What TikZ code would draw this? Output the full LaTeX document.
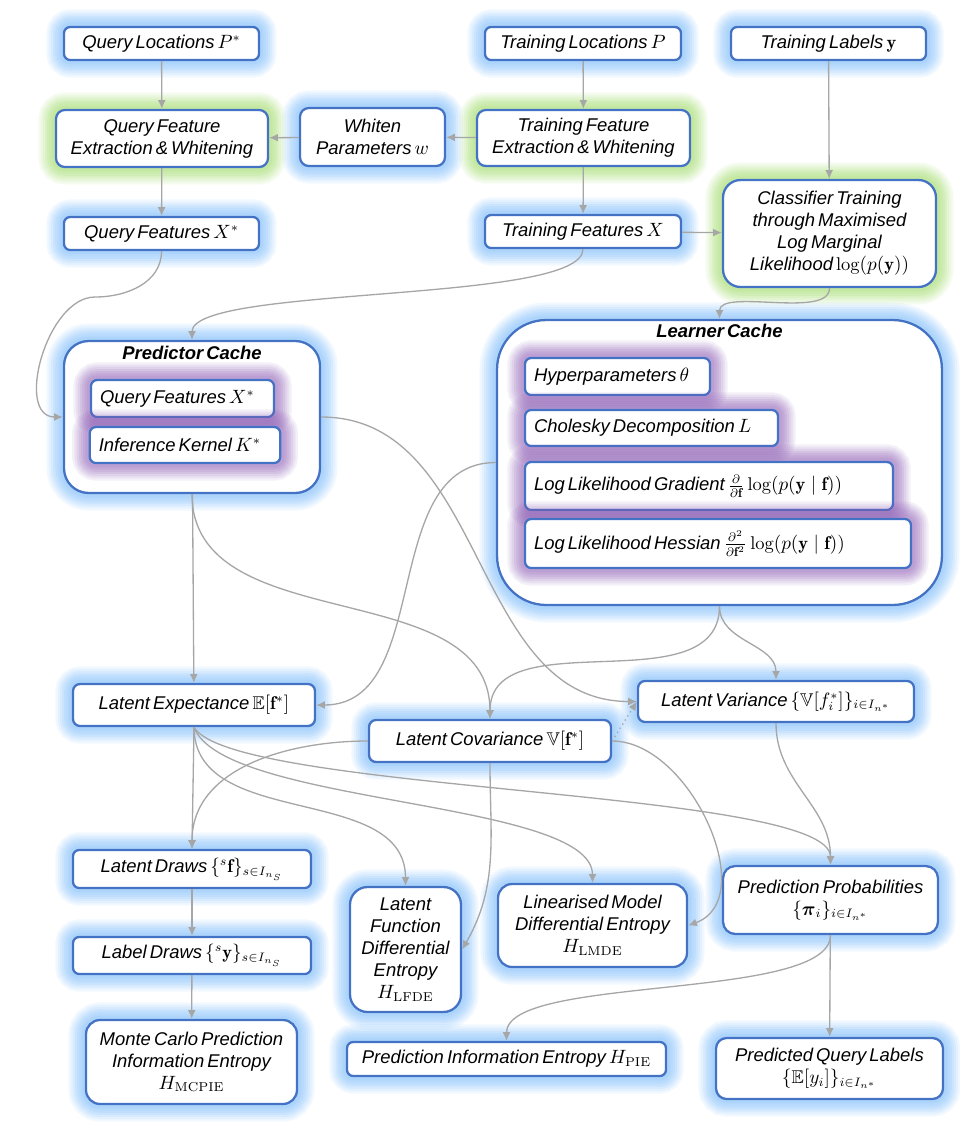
\documentclass[tikz,border=0pt]{standalone}
\usepackage{amsmath,amssymb}
\usepackage{fontspec}
\setsansfont{Liberation Sans}[WordSpace=0.6]
\usepackage{tikz}
\usetikzlibrary{arrows.meta}

\definecolor{boxblue}{RGB}{68,114,196}
\definecolor{haloblue}{RGB}{110,180,250}
\definecolor{halogreen}{RGB}{150,215,90}
\definecolor{halopurple}{RGB}{140,90,180}
\definecolor{linkgray}{RGB}{166,166,166}

\tikzset{
  halo/.style={preaction={draw=#1,line width=20pt,opacity=0.09},
               preaction={draw=#1,line width=17.5pt,opacity=0.1},
               preaction={draw=#1,line width=15pt,opacity=0.11},
               preaction={draw=#1,line width=12.5pt,opacity=0.12},
               preaction={draw=#1,line width=10pt,opacity=0.12},
               preaction={draw=#1,line width=7.5pt,opacity=0.12},
               preaction={draw=#1,line width=5pt,opacity=0.12}},
  box/.style={draw=boxblue,line width=1.3pt,fill=white,rounded corners=3.5pt,
              align=center,inner sep=2pt,
              font=\sffamily\itshape\fontsize{10.5}{12.5}\selectfont},
  bluebox/.style={box,halo=haloblue},
  greenbox/.style={box,halo=halogreen},
  purplebox/.style={box,halo=halopurple,align=left,inner xsep=0.18cm,
              execute at begin node={\spaceskip=0pt\xspaceskip=0pt\relax}},
  cachetitle/.style={font=\sffamily\bfseries\itshape\fontsize{10.5}{12.5}\selectfont},
  link/.style={draw=linkgray,line width=0.75pt,-{Latex[length=5pt,width=4.5pt]}},
}

\begin{document}
\begin{tikzpicture}[x=0.02cm,y=0.02cm]
    \useasboundingbox (0,0) rectangle (960,-1134);

    % inputs and feature extraction
    \node[bluebox,minimum width=3.9cm,minimum height=0.66cm] (qloc) at (161.5,-43.5) {Query Locations $P^*$};
    \node[greenbox,rounded corners=5pt,minimum width=4.24cm,minimum height=1.14cm] (qfew) at (162,-138.5) {Query Feature\\Extraction \& Whitening};
    \node[bluebox,rounded corners=5pt,minimum width=2.9cm,minimum height=1.16cm] (wpar) at (372.5,-137) {Whiten\\Parameters $w$};
    \node[bluebox,minimum width=3.9cm,minimum height=0.66cm] (qfeat) at (161.5,-233.5) {Query Features $X^*$};
    \node[bluebox,minimum width=3.92cm,minimum height=0.66cm] (tloc) at (583,-43.5) {Training Locations $P$};
    \node[bluebox,minimum width=3.9cm,minimum height=0.66cm] (tlab) at (828.5,-43.5) {Training Labels $\mathbf{y}$};
    \node[greenbox,rounded corners=5pt,minimum width=4.26cm,minimum height=1.12cm] (tfew) at (583.5,-138) {Training Feature\\Extraction \& Whitening};
    \node[bluebox,minimum width=3.92cm,minimum height=0.66cm] (tfeat) at (583,-231.5) {Training Features $X$};
    \node[greenbox,rounded corners=10pt,minimum width=4.26cm,minimum height=2.14cm] (clf) at (829.5,-233.5) {Classifier Training\\through Maximised\\Log Marginal\\Likelihood $\log(p(\mathbf{y}))$};

    % caches
    \node[bluebox,rounded corners=14pt,minimum width=5.12cm,minimum height=3.04cm] (pcache) at (192,-417) {};
    \node[cachetitle] (ptitle) at (192,-353) {Predictor Cache};
    \node[purplebox,text width=3.3cm,minimum height=0.74cm] (pqf) at (182.5,-398.5) {Query Features $X^*$};
    \node[purplebox,text width=3.45cm,minimum height=0.72cm] (pik) at (185,-445) {Inference Kernel $K^*$};

    \node[bluebox,rounded corners=28pt,minimum width=8.9cm,minimum height=5.7cm] (lcache) at (719.5,-462.5) {};
    \node[cachetitle] (ltitle) at (719.5,-331) {Learner Cache};
    \node[purplebox,text width=3.34cm,minimum height=0.74cm] (hyp) at (617.5,-376.5) {Hyperparameters $\theta$};
    \node[purplebox,text width=4.7cm,minimum height=0.72cm] (chol) at (651.5,-428) {Cholesky Decomposition $L$};
    \node[purplebox,text width=7cm,minimum height=0.96cm] (grad) at (709,-486) {Log Likelihood Gradient $\frac{\partial}{\partial\mathbf{f}}\log(p(\mathbf{y}\mid\mathbf{f}))$};
    \node[purplebox,text width=7.36cm,minimum height=0.98cm] (hess) at (718,-543.5) {Log Likelihood Hessian $\frac{\partial^2}{\partial\mathbf{f}^2}\log(p(\mathbf{y}\mid\mathbf{f}))$};

    % latent moments
    \node[bluebox,rounded corners=4pt,minimum width=4.84cm,minimum height=0.84cm] (lexp) at (194,-705) {Latent Expectance $\mathbb{E}[\mathbf{f}^*]$};
    \node[bluebox,rounded corners=4pt,minimum width=4.84cm,minimum height=0.84cm] (lcov) at (490,-741) {Latent Covariance $\mathbb{V}[\mathbf{f}^*]$};
    \node[bluebox,rounded corners=4pt,minimum width=5.52cm,minimum height=0.82cm] (lvar) at (776,-701.5) {Latent Variance $\{\mathbb{V}[f_i^*]\}_{i\in I_{n^*}}$};

    % outputs
    \node[bluebox,minimum width=4.76cm,minimum height=0.76cm] (ldraw) at (192,-869) {Latent Draws $\{{}^{s}\mathbf{f}\}_{s\in I_{n_S}}$};
    \node[bluebox,minimum width=4.76cm,minimum height=0.74cm] (ydraw) at (192,-955.5) {Label Draws $\{{}^{s}\mathbf{y}\}_{s\in I_{n_S}}$};
    \node[bluebox,rounded corners=8pt,minimum width=4.22cm,minimum height=1.68cm] (mcpie) at (191.5,-1062) {Monte Carlo Prediction\\Information Entropy\\$H_{\mathrm{MCPIE}}$};
    \node[bluebox,rounded corners=10pt,minimum width=2.22cm,minimum height=2.5cm] (lfde) at (405.5,-949.5) {Latent\\Function\\Differential\\Entropy\\$H_{\mathrm{LFDE}}$};
    \node[bluebox,rounded corners=8pt,minimum width=3.78cm,minimum height=1.66cm] (lmde) at (592.5,-925.5) {Linearised Model\\Differential Entropy\\$H_{\mathrm{LMDE}}$};
    \node[bluebox,rounded corners=7pt,minimum width=4.3cm,minimum height=1.36cm] (pprob) at (830.5,-900) {Prediction Probabilities\\$\{\boldsymbol{\pi}_i\}_{i\in I_{n^*}}$};
    \node[bluebox,minimum width=6.38cm,minimum height=0.68cm] (pie) at (506.5,-1059) {Prediction Information Entropy $H_{\mathrm{PIE}}$};
    \node[bluebox,rounded corners=6pt,minimum width=4.54cm,minimum height=1.22cm] (pql) at (829.5,-1068.5) {Predicted Query Labels\\$\{\mathbb{E}[y_i]\}_{i\in I_{n^*}}$};

    \coordinate (qbend) at (95,-297);

    % connectors
    \draw[link] (qloc) -- (qfew);
    \draw[link] (wpar) -- (qfew);
    \draw[link] (tfew) -- (wpar);
    \draw[link] (tloc) -- (tfew);
    \draw[link] (qfew) -- (qfeat);
    \draw[link] (tfew) -- (tfeat);
    \draw[link] (tfeat) -- (clf);
    \draw[link] (tlab) -- (clf);
    \draw[link] (qfeat.south) to[out=-90,in=0] (qbend) to[out=180,in=180] (pcache.west);
    \draw[link] (tfeat.south) to[out=-90,in=90,looseness=0.35] (pcache.north);
    \draw[link] (clf.south) to[out=-90,in=90,looseness=0.7] (lcache.north);
    \draw[link] (pcache) -- (lexp);
    \draw[link] (pcache.south) to[out=-90,in=90] (lcov.north);
    \draw[link] (pcache.east) to[out=0,in=180] (lvar.west);
    \draw[link] (lcache.west) to[out=180,in=0] (lexp.east);
    \draw[link] (lcache.south) to[out=-90,in=90] (lcov.north);
    \draw[link] (lcache.south) to[out=-90,in=90] (lvar.north);
    \draw[link,dotted] (lcov.east) -- (lvar.west);
    \draw[link] (lexp.south) -- (ldraw.north);
    \draw[link] (lcov.west) to[out=180,in=90] (ldraw.north);
    \draw[link] (lexp.south) to[out=-90,in=90] (lfde.north);
    \draw[link] (lexp.south) to[out=-70,in=90,looseness=0.5] (lmde.north);
    \draw[link] (lexp.south) to[out=-60,in=90,looseness=0.3] (pprob.north);
    \draw[link] (lcov.south) to[out=-90,in=60] (lfde.east);
    \draw[link] (lcov.east) to[out=0,in=20] (lmde.east);
    \draw[link] (lvar.south) to[out=-90,in=90] (pprob.north);
    \draw[link] (pprob.south) to[out=-90,in=90,looseness=0.5] (pie.north);
    \draw[link] (pprob) -- (pql);
    \draw[link] (ldraw) -- (ydraw);
    \draw[link] (ydraw) -- (mcpie);
\end{tikzpicture}
\end{document}
